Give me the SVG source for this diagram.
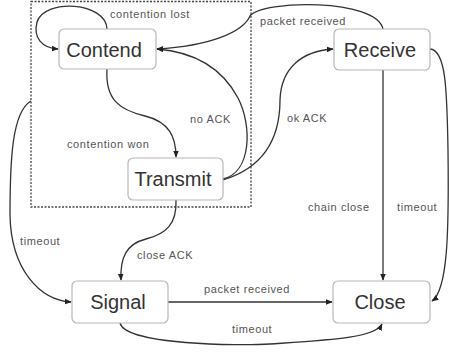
<svg xmlns="http://www.w3.org/2000/svg" width="449" height="354" viewBox="0 0 449 354">
<style>
.node rect{fill:#fff;stroke:#b8b8b8;stroke-width:1.2}
.node text{font-family:"Liberation Sans",Arial,sans-serif;font-size:20px;fill:#333;text-anchor:middle}
.edge{fill:none;stroke:#333;stroke-width:1.3;marker-end:url(#ah)}
.lbl{font-family:"Liberation Sans",Arial,sans-serif;font-size:11px;letter-spacing:0.6px;fill:#555}
.group{fill:none;stroke:#444;stroke-width:1.3;stroke-dasharray:2,1.5}
</style>
<defs>
<marker id="ah" viewBox="0 0 10 10" refX="9" refY="5" markerWidth="7" markerHeight="7" orient="auto" markerUnits="userSpaceOnUse">
<path d="M0,1 L10,5 L0,9 z" fill="#222"/>
</marker>
</defs>
<rect id="cluster" class="group" x="31" y="1.5" width="220" height="205.5"/>
<g id="connectors">
<path class="edge" d="M107,29 C106,2 45,-2 37,22 C33,38 42,48 58,49"/>
<path class="edge" d="M383,29 C376,-2 262,0 250,16 C243,32 210,46 157,49"/>
<path class="edge" d="M223,179 C252,172 252,125 238,98 C222,68 195,52 157,49"/>
<path class="edge" d="M223,180 C262,168 280,140 280,100 C281,68 302,51 333,49"/>
<path class="edge" d="M107,69 C105,100 120,110 145,116 C170,122 176,138 176,157"/>
<path class="edge" d="M176,200 C177,224 166,234 146,239 C126,244 120,258 121,280"/>
<path class="edge" d="M31,101 C12,112 10,160 10,215 C11,270 40,300 71,302"/>
<path class="edge" d="M383,70 L383,280"/>
<path class="edge" d="M430,49 C446,50 447,90 448,150 C449,230 448,290 432,301"/>
<path class="edge" d="M168,302 L332,302"/>
<path class="edge" d="M120,323 C125,345 240,346 270,344 C330,340 375,338 382,324"/>
</g>
<g id="labels">
<text class="lbl" x="110" y="18">contention lost</text>
<text class="lbl" x="260" y="25">packet received</text>
<text class="lbl" x="190" y="123">no ACK</text>
<text class="lbl" x="287" y="122">ok ACK</text>
<text class="lbl" x="67" y="148">contention won</text>
<text class="lbl" x="137" y="259">close ACK</text>
<text class="lbl" x="20" y="245">timeout</text>
<text class="lbl" x="308" y="211">chain close</text>
<text class="lbl" x="397" y="211">timeout</text>
<text class="lbl" x="204" y="293">packet received</text>
<text class="lbl" x="232" y="333">timeout</text>
</g>
<g id="Contend" class="node"><rect x="59" y="29" width="97" height="40" rx="5"/><text x="104" y="56.5">Contend</text></g>
<g id="Receive" class="node"><rect x="334" y="29" width="96" height="41" rx="5"/><text x="380" y="57">Receive</text></g>
<g id="Transmit" class="node"><rect x="128" y="158" width="95" height="42" rx="5"/><text x="173" y="186">Transmit</text></g>
<g id="Signal" class="node"><rect x="72" y="281" width="96" height="42" rx="5"/><text x="118" y="309">Signal</text></g>
<g id="Close" class="node"><rect x="333" y="281" width="97" height="42" rx="5"/><text x="380" y="309">Close</text></g>
</svg>
